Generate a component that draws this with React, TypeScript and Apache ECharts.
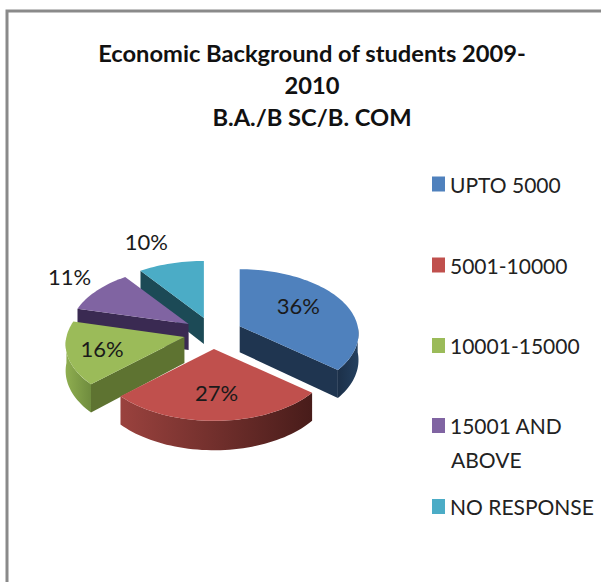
import React, { useEffect, useRef } from "react";
import * as echarts from "echarts";

const categories = ["UPTO 5000", "5001-10000", "10001-15000", "15001 AND ABOVE", "NO RESPONSE"];
const shares = [36, 27, 16, 11, 10];
const legendLines = ["UPTO 5000", "5001-10000", "10001-15000", "15001 AND", "NO RESPONSE"];
const topColors = ["#4f81bd", "#c0504d", "#9bbb59", "#8064a2", "#4bacc6"];
const cutColors = ["#1f3550", "#5b1f1d", "#5e7331", "#3a2a52", "#1c4a56"];
const wallLeft = ["#1c3049", "#9a423e", "#8fae50", "#3a2a52", "#1c4a56"];
const wallRight = ["#24405f", "#481c1a", "#6f8c3e", "#3a2a52", "#1c4a56"];
const drawOrder = [4, 5, 3, 2, 1];
const labelFactors = [[0.55, 0.75], [0.7, 0.69], [0.72, 0.75], [1.22, 1.33], [1.58, 1.27]];
const legendCenters = [185.5, 266.5, 347, 427, 508];

const CX = 213, CY = 333, RX = 118, RY = 63.6, PERSP = 0.116, DEPTH = 26, EXPLODE = 0.25;
const total = shares.reduce((a, b) => a + b, 0);
const toRad = (d: number) => (d * Math.PI) / 180;

function renderSlice(i: number) {
  return (_params: any, api: any) => {
    const value = api.value(0);
    const before = shares.slice(0, i).reduce((a, b) => a + b, 0);
    const a0 = (before / total) * 360;
    const a1 = a0 + (value / total) * 360;
    const mid = toRad((a0 + a1) / 2);
    const ax = CX + RX * EXPLODE * Math.sin(mid);
    const ay = CY - RY * EXPLODE * Math.cos(mid);
    const pt = (deg: number, rad = 1) => {
      const X = rad * Math.sin(toRad(deg));
      const Y = -rad * Math.cos(toRad(deg));
      const s = 1 / (1 - PERSP * Y);
      return { x: ax + RX * X * s, y: ay + RY * Y * s, s };
    };
    const arc = (from: number, to: number) => {
      const out = [];
      const n = Math.max(2, Math.ceil(Math.abs(to - from) / 2));
      for (let k = 0; k <= n; k++) out.push(pt(from + ((to - from) * k) / n));
      return out;
    };
    const children: any[] = [];
    const wFrom = Math.max(a0, 90);
    const wTo = Math.min(a1, 270);
    const cuts: number[] = [];
    // cut faces that look towards the viewer
    if (a1 > 90 && a1 < 135) cuts.push(a1);
    if (a0 > 180 && a0 < 330) cuts.push(a0);
    cuts.forEach((deg) => {
      const p = pt(deg);
      const o = pt(deg, 0);
      children.push({
        type: "polygon",
        shape: {
          points: [
            [o.x, o.y],
            [p.x, p.y],
            [p.x, p.y + DEPTH * p.s],
            [o.x, o.y + DEPTH * o.s],
          ],
        },
        style: { fill: cutColors[i] },
      });
    });
    if (wTo > wFrom) {
      const line = arc(wFrom, wTo);
      const poly = [
        ...line.map((p) => [p.x, p.y]),
        ...line.slice().reverse().map((p) => [p.x, p.y + DEPTH * p.s]),
      ];
      children.push({
        type: "polygon",
        shape: { points: poly },
        style: {
          fill: {
            type: "linear",
            x: 0,
            y: 0,
            x2: 1,
            y2: 0,
            colorStops: [
              { offset: 0, color: wallLeft[i] },
              { offset: 1, color: wallRight[i] },
            ],
          },
        },
      });
    }
    const face = arc(a0, a1);
    const o = pt(0, 0);
    children.push({
      type: "polygon",
      shape: { points: [[o.x, o.y], ...face.map((p) => [p.x, p.y])] },
      style: { fill: topColors[i] },
    });
    children.push({
      type: "text",
      z2: 50,
      style: {
        text: `${value}%`,
        x: ax + RX * Math.sin(mid) * labelFactors[i][0],
        y: ay - RY * Math.cos(mid) * labelFactors[i][1],
        align: "center",
        verticalAlign: "middle",
        font: "22px Lato",
        fill: "#1a1a1a",
      },
    });
    return { type: "group", children };
  };
}

export default function App() {
  const ref = useRef<HTMLDivElement>(null);
  useEffect(() => {
    const chart = echarts.init(ref.current!, undefined, { renderer: "svg" });
    chart.setOption({
      animation: false,
      backgroundColor: "#ffffff",
      title: {
        text: "Economic Background of students 2009-\n2010\nB.A./B SC/B. COM",
        left: 312,
        top: 37,
        padding: 0,
        textAlign: "center",
        textStyle: { fontFamily: "Lato", fontSize: 23.7, fontWeight: 700, color: "#111111", lineHeight: 32 },
      },
      legend: categories.map((name, i) => ({
        data: [name],
        left: 432,
        top: legendCenters[i] - 12,
        orient: "vertical",
        selectedMode: false,
        itemWidth: 13,
        itemHeight: 15,
        icon: "rect",
        padding: 0,
        formatter: () => legendLines[i],
        textStyle: { fontFamily: "Lato", fontSize: 21, color: "#222222" },
      })),
      graphic: [
        {
          type: "rect",
          shape: { x: 7, y: 11, width: 700, height: 700 },
          style: { fill: "none", stroke: "#8a8a8a", lineWidth: 3 },
          silent: true,
        },
        {
          type: "text",
          x: 451,
          y: 459,
          style: { text: "ABOVE", font: "21px Lato", fill: "#222222", verticalAlign: "middle" },
        },
      ],
      series: categories.map((name, i) => ({
        type: "custom",
        name,
        coordinateSystem: "none",
        z: drawOrder[i],
        itemStyle: { color: topColors[i] },
        data: [[shares[i]]],
        renderItem: renderSlice(i),
      })),
    });
    return () => chart.dispose();
  }, []);
  return <div ref={ref} style={{ position: "fixed", left: 0, top: 0, width: 601, height: 582 }} />;
}
